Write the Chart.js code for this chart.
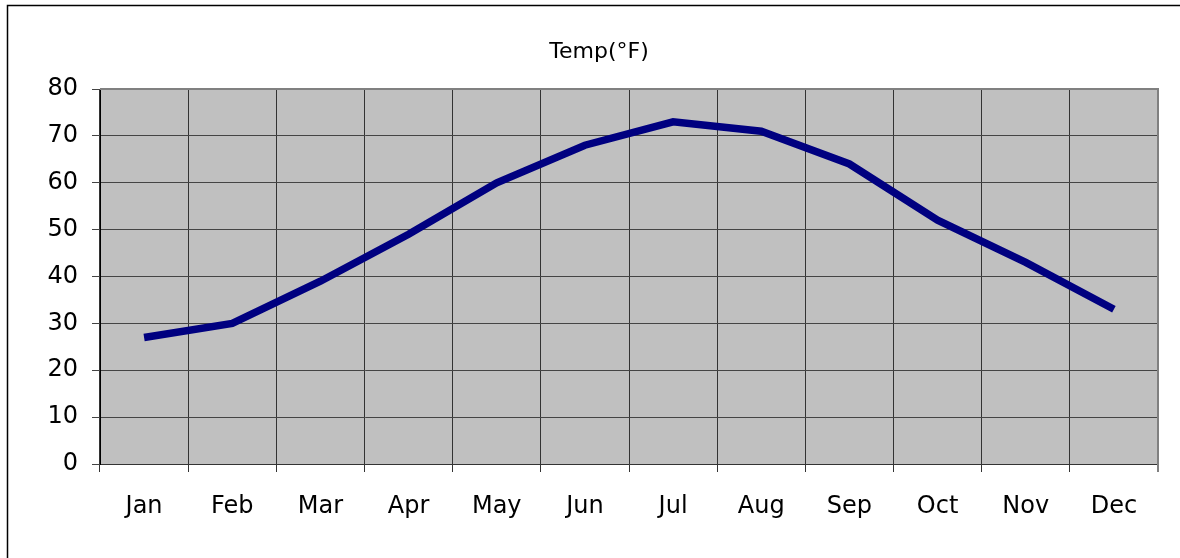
<!DOCTYPE html>
<html>
<head>
<meta charset="utf-8">
<script src="https://cdn.jsdelivr.net/npm/chart.js@4/dist/chart.umd.min.js"></script>
<style>
  html, body { margin: 0; padding: 0; background: #fff; }
  #wrap { width: 1180px; height: 558px; }
</style>
</head>
<body>
<div id="wrap"><canvas id="tempChart" width="1180" height="558"></canvas></div>
<script>
const months = ["Jan", "Feb", "Mar", "Apr", "May", "Jun", "Jul", "Aug", "Sep", "Oct", "Nov", "Dec"];
const temps = [27, 30, 39, 49, 60, 68, 73, 71, 64, 52, 43, 33];
const chartTitle = "Temp(°F)";

const fontFamily = "'DejaVu Sans', sans-serif";

// gray plot background, outer frame and the title (sits a bit right of centre)
const frame = {
  id: "frame",
  beforeDraw(chart) {
    const { ctx, chartArea: a } = chart;
    ctx.save();
    ctx.fillStyle = "#c0c0c0";
    ctx.fillRect(a.left, a.top, a.right - a.left, a.bottom - a.top);
    ctx.strokeStyle = "#000";
    ctx.lineWidth = 1.5;
    ctx.beginPath();
    ctx.moveTo(7.5, 558);
    ctx.lineTo(7.5, 5.5);
    ctx.lineTo(1180, 5.5);
    ctx.stroke();

    ctx.fillStyle = "#000";
    ctx.font = `22px ${fontFamily}`;
    ctx.textAlign = "center";
    ctx.textBaseline = "middle";
    ctx.fillText(chartTitle, 599, 52);
    ctx.restore();
  },
  afterDatasetsDraw(chart) {
    const { ctx, chartArea: a } = chart;
    ctx.save();
    ctx.strokeStyle = "#808080";
    ctx.lineWidth = 2;
    ctx.beginPath();
    ctx.moveTo(a.left, a.top);
    ctx.lineTo(a.right, a.top);
    ctx.lineTo(a.right, a.bottom + 8);
    ctx.stroke();
    ctx.restore();
  },
};

new Chart(document.getElementById("tempChart"), {
  type: "line",
  data: {
    labels: months,
    datasets: [
      {
        data: temps,
        borderColor: "#000080",
        borderWidth: 7.5,
        pointRadius: 0,
        tension: 0,
        borderCapStyle: "butt",
      },
    ],
  },
  options: {
    responsive: false,
    animation: false,
    layout: { padding: { left: 0, right: 22, top: 89, bottom: 0 } },
    plugins: {
      legend: { display: false },
      tooltip: { enabled: false },
      title: { display: false },
    },
    scales: {
      x: {
        offset: true,
        grid: { offset: true, color: "#333", lineWidth: 1, tickLength: 8 },
        border: { color: "#333", width: 1 },
        ticks: { color: "#000", padding: 20, font: { family: fontFamily, size: 24 } },
        afterFit(scale) { scale.height = 94; },
      },
      y: {
        min: 0,
        max: 80,
        ticks: { stepSize: 10, color: "#000", padding: 14, font: { family: fontFamily, size: 24 } },
        grid: { color: "#444", lineWidth: 1, tickLength: 8 },
        border: { color: "#000", width: 1 },
        afterFit(scale) { scale.width = 100; },
      },
    },
  },
  plugins: [frame],
});
</script>
</body>
</html>
